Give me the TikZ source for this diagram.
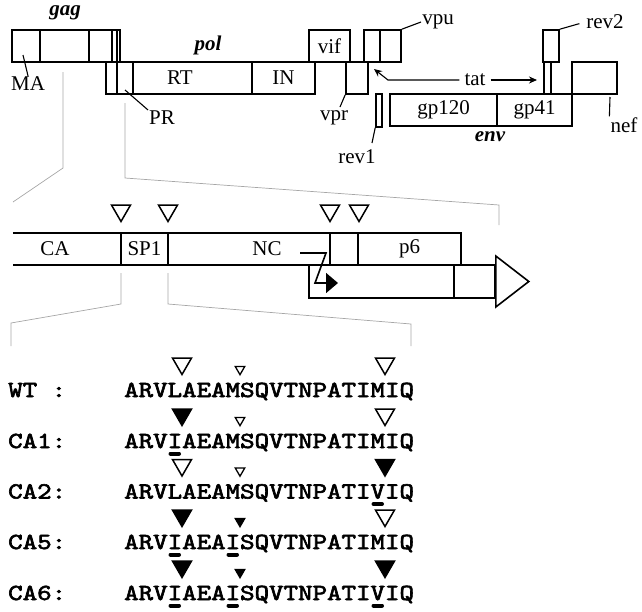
\documentclass[tikz,border=0pt]{standalone}
\usepackage{fontspec}
\setmainfont{Liberation Serif}
\newfontfamily\seqfont[FakeBold=2.5]{lmmono10-regular.otf}
\usetikzlibrary{arrows.meta, shapes.geometric}
\newcommand{\seqtxt}[1]{\scalebox{1.2}[1]{#1}}

\begin{document}
\begin{tikzpicture}[x=1pt, y=-1pt,
      every node/.style={inner sep=1pt, font=\fontsize{21}{21}\selectfont},
      gb/.style={draw, line width=1.6pt, inner sep=0pt, minimum height=32pt},
      gl/.style={line width=1.6pt},
      ld/.style={line width=1.1pt},
      bi/.style={font=\fontsize{21}{21}\selectfont\bfseries\itshape},
      brk/.style={gray!70, line width=0.7pt},
      tri/.style={draw, line width=1.5pt, regular polygon, regular polygon sides=3,
                  shape border rotate=180, inner sep=0pt, minimum size=22pt, anchor=corner 1},
      stri/.style={tri, line width=1.3pt, minimum size=11pt},
      full/.style={fill=black},
      sq/.style={font=\seqfont\fontsize{23}{23}\selectfont, inner sep=0pt, anchor=base west},
      ul/.style={line width=4pt, line cap=round}]
    \useasboundingbox (0,0) rectangle (642,611);
    \node[gb, minimum width=28pt]  (ma)  at (26,46)    {};
    \node[gb, minimum width=49pt]  (ga2) at (64.5,46)  {};
    \node[gb, minimum width=23pt]  (ga3) at (100.5,46) {};
    \node[gb, minimum width=5pt]   (ga4) at (114.5,46) {};
    \node[gb, minimum width=3pt]   (ga5) at (118.5,46) {};
    \node[gb, minimum width=11pt]  (po1) at (111.5,78) {};
    \node[gb, minimum width=16pt]  (pr)  at (125,78)   {};
    \node[gb, minimum width=119pt] (rt)  at (192.5,78) {};
    \node[gb, minimum width=63pt]  (int) at (283.5,78) {IN};
    \node[gb, minimum width=41pt]  (vif) at (329.5,46) {vif};
    \node[gb, minimum width=22pt]  (vpr) at (357,78)   {};
    \node[gb, minimum width=16pt]  (vpu1) at (372,46)  {};
    \node[gb, minimum width=21pt]  (vpu2) at (390.5,46) {};
    \node[gb, minimum width=6pt, minimum height=33pt] (rev1) at (379,110.5) {};
    \node[gb, minimum width=107pt] (gp120) at (443.5,110) {gp120};
    \node[gb, minimum width=75pt]  (gp41)  at (534.5,110) {gp41};
    \node[gb, minimum width=16pt]  (rev2a) at (551,46)   {};
    \node[gb, minimum width=7pt]   (rev2b) at (547.5,78) {};
    \node[gb, minimum width=45pt]  (nef)   at (594.5,78) {};

    \node[bi] (gagl) at (65,13)   {gag};
    \node[bi] (poll) at (208,45)  {pol};
    \node[bi] (envl) at (490,137) {env};
    \node (rtl)  at (180,78)  {RT};
    \node (mal)  at (28,84)   {MA};
    \node (prl)  at (162,118) {PR};
    \node (vprl) at (334,118) {vpr};
    \node (vpul) at (438,22)  {vpu};
    \node (r1l)  at (357,157) {rev1};
    \node (tatl) at (475,80)  {tat};
    \node (r2l)  at (605,22)  {rev2};
    \node (nefl) at (624,125) {nef};

    \coordinate (maa)  at (23,55);
    \coordinate (pra)  at (125,90);
    \coordinate (vpra) at (340,107);
    \coordinate (r1a)  at (372,143);
    \coordinate (nefa) at (610,97);
    \coordinate (tbend) at (388,80);
    \coordinate (ttip)  at (374,69);
    \coordinate (tend)  at (537,80);
    \draw[ld] (mal.north) -- (maa);
    \draw[ld] (prl.north west) -- (pra);
    \draw[ld] (vpr.south west) -- (vpra);
    \draw[ld] (vpul.west) -- (vpu2.north east);
    \draw[ld] (rev1.south west) -- (r1a);
    \draw[ld, shorten <=6pt] (r2l.west) -- (rev2a.north east);
    \draw[ld] (nefl.north west) -- (nefa);
    \draw[ld, shorten <=4pt, -{Stealth[length=8pt, width=7pt]}] (tatl.west) -- (tbend) -- (ttip);
    \draw[ld, shorten <=4pt, -{Stealth[length=8pt, width=7pt]}] (tatl.east) -- (tend);

    \draw[brk] (63,72) -- (63,168) -- (13,202);
    \draw[brk] (125,103) -- (125,178) -- (499,205) -- (499,225);
    \draw[brk] (121,273) -- (121,304) -- (11,323) -- (11,346);
    \draw[brk] (168,273) -- (168,304) -- (411,324) -- (411,346);

    \node[minimum width=108pt, minimum height=32pt, inner sep=0pt] (cab) at (67,249) {};
    \draw[gl] (cab.north west) -- (cab.north east) -- (cab.south east) -- (cab.south west);
    \node (cal) at (55,249) {CA};
    \node[gb, minimum width=47pt]  (sp1) at (144.5,249) {SP1};
    \node[gb, minimum width=162pt] (nc)  at (249,249)   {};
    \node (ncl) at (267,249) {NC};
    \node[gb, minimum width=28pt]  (ncp) at (344,249)   {};
    \node[gb, minimum width=103pt] (p6)  at (409.5,249) {p6};
    \node[gb, minimum width=145pt, minimum height=33pt] (fs1) at (381.5,281.5) {};
    \node[gb, minimum width=41pt, minimum height=33pt]  (fs2) at (474.5,281.5) {};
    \draw[gl] (fs2.east) ++(0,-25.5) -- ++(33,25.5) -- ++(-33,25.5) -- cycle;
    \coordinate (fsa) at (300,253);
    \draw[gl, -{Triangle[length=12pt, width=20pt]}] (fsa) -- ++(26,0) -- ++(-11,30) -- ++(23,0);
    \node[tri] (c1) at (121,223) {};
    \node[tri] (c2) at (168,223) {};
    \node[tri] (c3) at (330,223) {};
    \node[tri] (c4) at (359,223) {};

    \node[sq] (wtl) at (8,397)   {\seqtxt{WT :}};
    \node[sq] (wt)  at (124,397) {\seqtxt{ARVLAEAMSQVTNPATIMIQ}};
    \node[tri]  (wt1) at (182,376) {};
    \node[stri] (wt2) at (240,376) {};
    \node[tri]  (wt3) at (385,376) {};

    \node[sq] (ca1l) at (8,448)   {\seqtxt{CA1:}};
    \node[sq] (ca1)  at (124,448) {\seqtxt{ARVIAEAMSQVTNPATIMIQ}};
    \node[tri, full] (ca1a) at (182,427) {};
    \node[stri]      (ca1b) at (240,427) {};
    \node[tri]       (ca1c) at (385,427) {};
    \draw[ul] (170.5,453.5) -- (179,453.5);

    \node[sq] (ca2l) at (8,498.5)   {\seqtxt{CA2:}};
    \node[sq] (ca2)  at (124,498.5) {\seqtxt{ARVLAEAMSQVTNPATIVIQ}};
    \node[tri]       (ca2a) at (182,477.5) {};
    \node[stri]      (ca2b) at (240,477.5) {};
    \node[tri, full] (ca2c) at (385,477.5) {};
    \draw[ul] (373.5,504) -- (382,504);

    \node[sq] (ca5l) at (8,549)   {\seqtxt{CA5:}};
    \node[sq] (ca5)  at (124,549) {\seqtxt{ARVIAEAISQVTNPATIMIQ}};
    \node[tri, full]  (ca5a) at (182,528) {};
    \node[stri, full] (ca5b) at (240,528) {};
    \node[tri]        (ca5c) at (385,528) {};
    \draw[ul] (170.5,554.5) -- (179,554.5);
    \draw[ul] (228.5,554.5) -- (237,554.5);

    \node[sq] (ca6l) at (8,600)   {\seqtxt{CA6:}};
    \node[sq] (ca6)  at (124,600) {\seqtxt{ARVIAEAISQVTNPATIVIQ}};
    \node[tri, full]  (ca6a) at (182,579) {};
    \node[stri, full] (ca6b) at (240,579) {};
    \node[tri, full]  (ca6c) at (385,579) {};
    \draw[ul] (170.5,605.5) -- (179,605.5);
    \draw[ul] (228.5,605.5) -- (237,605.5);
    \draw[ul] (373.5,605.5) -- (382,605.5);
  \end{tikzpicture}
\end{document}
